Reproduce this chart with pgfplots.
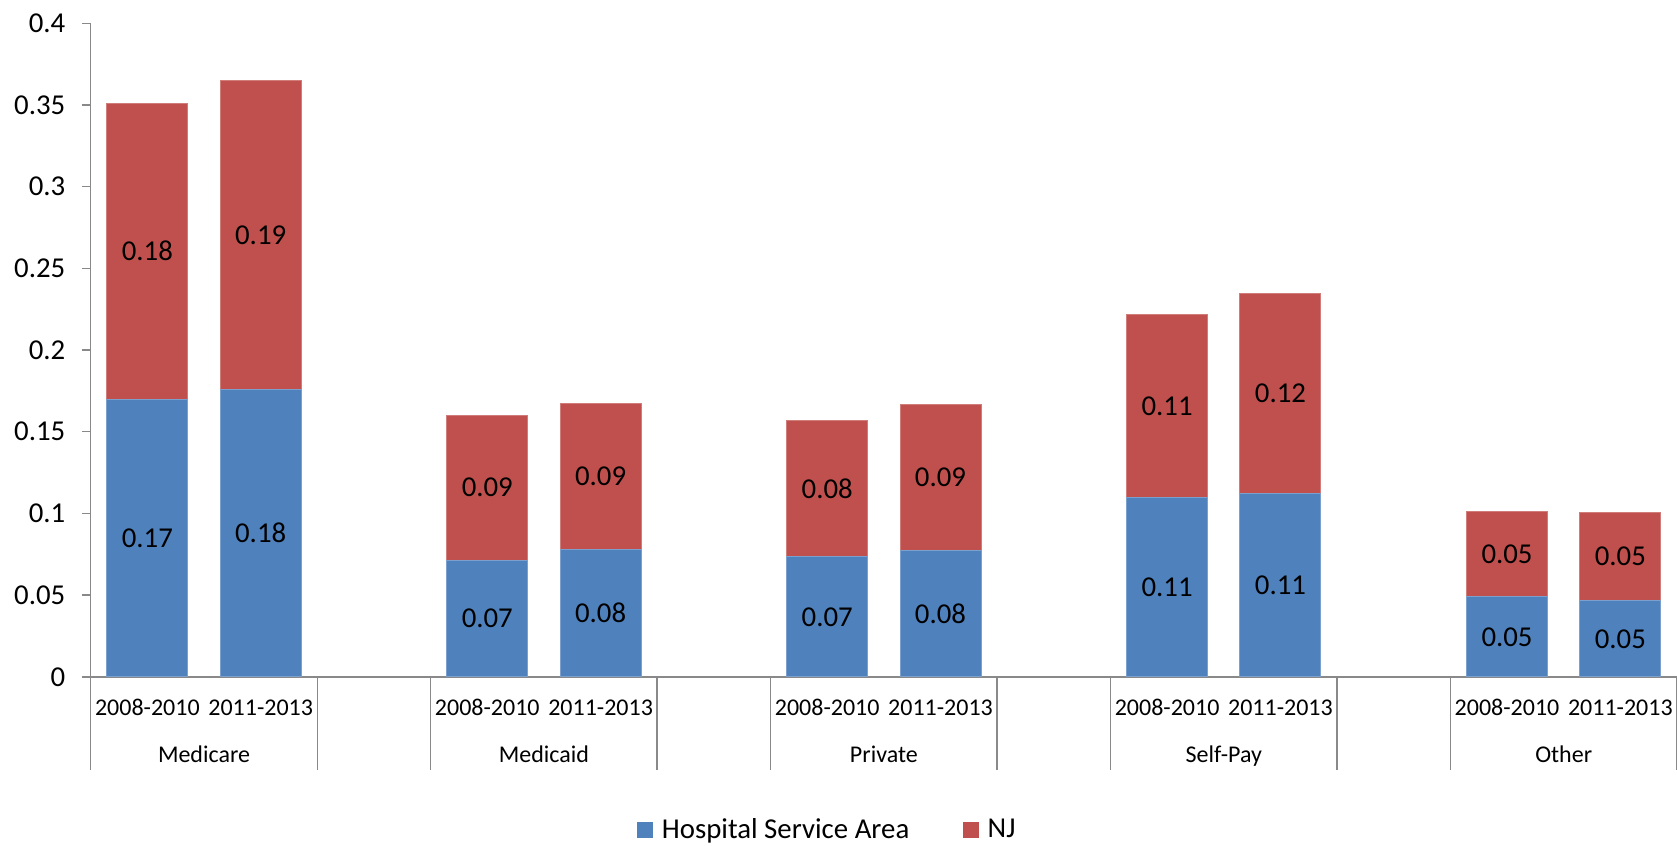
\documentclass[border=0pt]{standalone}
\usepackage{fontspec}
\setmainfont{Carlito}
\usepackage{pgfplots}
\usepackage{pgfplotstable}
\pgfplotsset{compat=1.18}
\definecolor{hsa}{HTML}{4F81BD}
\definecolor{nj}{HTML}{C0504D}
\definecolor{axgray}{HTML}{898989}

\pgfplotstableread{
x blue red bl rl
0 0.170 0.181 0.17 0.18
1 0.176 0.189 0.18 0.19
3 0.0715 0.0885 0.07 0.09
4 0.078 0.089 0.08 0.09
6 0.0735 0.0832 0.07 0.08
7 0.0775 0.089 0.08 0.09
9 0.1095 0.112 0.11 0.11
10 0.112 0.1228 0.11 0.12
12 0.049 0.052 0.05 0.05
13 0.0465 0.054 0.05 0.05
}\data

\begin{document}
\begin{tikzpicture}
\begin{axis}[
  scale only axis,
  width=793pt, height=326.7pt,
  xmin=-0.5, xmax=13.5,
  ymin=0, ymax=0.4,
  ytick={0,0.05,...,0.4},
  clip=false,
  axis x line*=bottom, axis y line*=left,
  axis line style={axgray, line width=0.75pt},
  tick align=outside,
  major tick length=4.5pt,
  ytick style={axgray, line width=0.75pt},
  xtick style={draw=none},
  xtick={0,1,3,4,6,7,9,10,12,13},
  xticklabels={2008-2010,2011-2013,2008-2010,2011-2013,2008-2010,2011-2013,2008-2010,2011-2013,2008-2010,2011-2013},
  xticklabel style={font=\fontsize{12}{14}\selectfont, anchor=center, yshift=-11pt},
  yticklabel style={font=\fontsize{14.4}{17}\selectfont, xshift=-4.7pt},
  /pgf/number format/assume math mode=true,
  yticklabel={\pgfmathprintnumber[fixed,precision=2]{\tick}},
  legend columns=2,
  legend style={draw=none, at={(368.8pt,-76.5pt)}, anchor=center,
    font=\fontsize{14.4}{17}\selectfont,
    /tikz/every even column/.append style={column sep=25pt}},
  legend cell align=left,
  legend image code/.code={\fill[#1, draw=none] (0pt,-4pt) rectangle (8pt,4pt); \path (10pt,0pt);},
]
% red bar drawn to the total height, blue drawn over it (stacked look)
\addplot[ybar, bar width=0.715, bar shift=0pt, fill=nj, draw=nj!75!white, line width=0.5pt, forget plot]
  table[x=x, y expr=\thisrow{blue}+\thisrow{red}] {\data};
\addplot[ybar, bar width=0.715, bar shift=0pt, fill=hsa, draw=hsa!75!white, line width=0.5pt]
  table[x=x, y=blue] {\data};
\addlegendentry{Hospital Service Area}
\addlegendimage{fill=nj}
\addlegendentry{NJ}
% value labels
\addplot[draw=none, mark=none, forget plot, nodes near coords, point meta=explicit symbolic,
  every node near coord/.append style={anchor=center, font=\fontsize{14.4}{17}\selectfont}]
  table[x=x, y expr=\thisrow{blue}/2, meta=bl] {\data};
\addplot[draw=none, mark=none, forget plot, nodes near coords, point meta=explicit symbolic,
  every node near coord/.append style={anchor=center, font=\fontsize{14.4}{17}\selectfont}]
  table[x=x, y expr=\thisrow{blue}+\thisrow{red}/2, meta=rl] {\data};
% category separators
\pgfplotsinvokeforeach{-0.5,1.5,2.5,4.5,5.5,7.5,8.5,10.5,11.5,13.5}{
  \draw[axgray, line width=0.75pt] (axis cs:#1,0) -- ([yshift=-46.65pt]axis cs:#1,0);
}
% group labels
\node[font=\fontsize{12}{14}\selectfont, anchor=base] at ([yshift=-42.9pt]axis cs:0.5,0) {Medicare};
\node[font=\fontsize{12}{14}\selectfont, anchor=base] at ([yshift=-42.9pt]axis cs:3.5,0) {Medicaid};
\node[font=\fontsize{12}{14}\selectfont, anchor=base] at ([yshift=-42.9pt]axis cs:6.5,0) {Private};
\node[font=\fontsize{12}{14}\selectfont, anchor=base] at ([yshift=-42.9pt]axis cs:9.5,0) {Self-Pay};
\node[font=\fontsize{12}{14}\selectfont, anchor=base] at ([yshift=-42.9pt]axis cs:12.5,0) {Other};
\end{axis}
\pgfresetboundingbox
\path[use as bounding box] (-45.35pt,-84.15pt) rectangle (793pt,338.35pt);
\end{tikzpicture}
\end{document}
